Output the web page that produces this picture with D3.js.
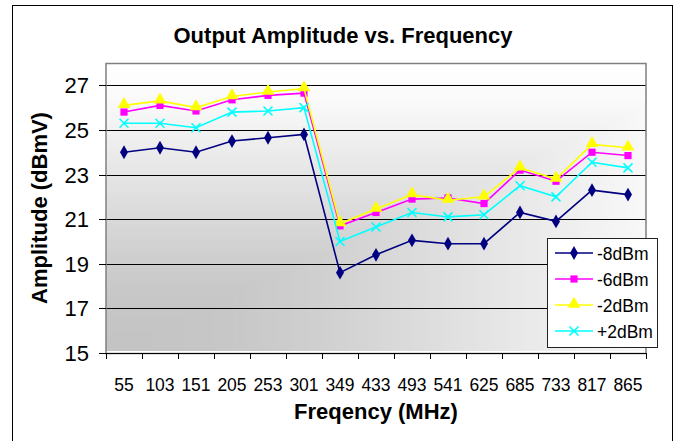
<!DOCTYPE html>
<html lang="en">
<head>
<meta charset="UTF-8">
<title>Output Amplitude vs. Frequency</title>
<script src="https://d3js.org/d3.v7.min.js"></script>
<style>
    body { margin: 0; background: #fff; }
    svg text { font-family: Arial, "Liberation Sans", sans-serif; fill: #000; }
</style>
</head>
<body>
<svg id="chart" width="678" height="441"></svg>
<script>
    // values
    const freqs = ["55", "103", "151", "205", "253", "301", "349", "433", "493", "541", "625", "685", "733", "817", "865"];
    const m8dBm = [24.0, 24.2, 24.0, 24.5, 24.65, 24.8, 18.6, 19.4, 20.05, 19.9, 19.9, 21.3, 20.9, 22.3, 22.1];
    const m6dBm = [25.8, 26.1, 25.85, 26.35, 26.55, 26.65, 20.7, 21.3, 21.9, 21.95, 21.7, 23.2, 22.7, 24.0, 23.85];
    const m2dBm = [26.1, 26.3, 26.0, 26.5, 26.7, 26.85, 20.8, 21.45, 22.1, 21.85, 22.0, 23.3, 22.8, 24.35, 24.2];
    const p2dBm = [25.3, 25.3, 25.1, 25.8, 25.85, 26.0, 20.0, 20.65, 21.3, 21.1, 21.2, 22.5, 22.0, 23.55, 23.3];
    const seriesNames = ["-8dBm", "-6dBm", "-2dBm", "+2dBm"];
    const yTicks = [15, 17, 19, 21, 23, 25, 27];

    const series = [
        {name: seriesNames[0], values: m8dBm, color: "#000080", marker: "diamond"},
        {name: seriesNames[1], values: m6dBm, color: "#ff00ff", marker: "square"},
        {name: seriesNames[2], values: m2dBm, color: "#ffff00", marker: "triangle"},
        {name: seriesNames[3], values: p2dBm, color: "#00ffff", marker: "x"}
    ];

    const svg = d3.select("#chart");
    const plot = {left: 106, top: 63, right: 646, bottom: 353};

    // outer chart frame
    svg.append("rect")
        .attr("x", 12.5).attr("y", 5.5)
        .attr("width", 660).attr("height", 445)
        .attr("fill", "#fff").attr("stroke", "#000");

    svg.append("text")
        .attr("x", 343).attr("y", 43)
        .attr("text-anchor", "middle")
        .style("font-size", "22px").style("font-weight", "bold")
        .text("Output Amplitude vs. Frequency");

    const x = d3.scaleBand().domain(freqs).range([plot.left, plot.right]);
    const y = d3.scaleLinear().domain([15, 28]).range([plot.bottom, plot.top]);

    // plot background: grey in the lower left corner fading to white
    const pw = plot.right - plot.left, ph = plot.bottom - plot.top - 2;
    svg.append("clipPath").attr("id", "pclip")
        .append("rect")
        .attr("x", plot.left).attr("y", plot.top)
        .attr("width", pw).attr("height", ph);
    const shade = d3.scaleLinear()
        .domain([0, 0.2, 0.35, 0.5, 0.65, 0.8, 0.9, 1])
        .range(["#c3c3c3", "#c7c7c7", "#d0d0d0", "#dcdcdc", "#e8e8e8", "#f4f4f4", "#fbfbfb", "#ffffff"]);
    svg.append("g").attr("clip-path", "url(#pclip)")
        .selectAll("rect")
        .data(d3.range(1, 0, -0.01))
        .join("rect")
        .attr("x", plot.left)
        .attr("y", t => plot.bottom - 2 - ph * t)
        .attr("width", t => pw * t / 0.85)
        .attr("height", t => ph * t)
        .attr("fill", t => shade(t));

    // gridlines
    svg.append("g").selectAll("line")
        .data(yTicks.slice(1))
        .join("line")
        .attr("x1", plot.left).attr("x2", plot.right)
        .attr("y1", d => Math.round(y(d)) + 0.5).attr("y2", d => Math.round(y(d)) + 0.5)
        .attr("stroke", "#000").attr("stroke-width", 1);

    // plot border
    svg.append("rect")
        .attr("x", plot.left).attr("y", plot.top + 0.5)
        .attr("width", pw).attr("height", plot.bottom - plot.top)
        .attr("fill", "none").attr("stroke", "#808080").attr("stroke-width", 1.5);

    // x axis
    const xa = svg.append("g");
    xa.append("line")
        .attr("x1", plot.left).attr("x2", plot.right + 1)
        .attr("y1", plot.bottom + 0.5).attr("y2", plot.bottom + 0.5)
        .attr("stroke", "#000");
    xa.selectAll(".tk")
        .data(freqs.concat(["end"]))
        .join("line")
        .attr("class", "tk")
        .attr("x1", (d, i) => Math.round(plot.left + i * x.bandwidth()) + 0.5)
        .attr("x2", (d, i) => Math.round(plot.left + i * x.bandwidth()) + 0.5)
        .attr("y1", plot.bottom).attr("y2", plot.bottom + 6)
        .attr("stroke", "#000");
    xa.selectAll("text")
        .data(freqs)
        .join("text")
        .attr("x", d => x(d) + x.bandwidth() / 2)
        .attr("y", 391)
        .attr("text-anchor", "middle")
        .style("font-size", "17.5px")
        .text(d => d);

    // y axis
    const ya = svg.append("g");
    ya.selectAll("line")
        .data(yTicks)
        .join("line")
        .attr("x1", plot.left - 7).attr("x2", plot.left)
        .attr("y1", d => Math.round(y(d)) + 0.5).attr("y2", d => Math.round(y(d)) + 0.5)
        .attr("stroke", "#000");
    ya.selectAll("text")
        .data(yTicks)
        .join("text")
        .attr("x", 89)
        .attr("y", d => y(d) + 8)
        .attr("text-anchor", "end")
        .style("font-size", "22px")
        .text(d => d);

    svg.append("text")
        .attr("transform", "translate(47,208) rotate(-90)")
        .attr("text-anchor", "middle")
        .style("font-size", "22px").style("font-weight", "bold")
        .text("Amplitude (dBmV)");

    svg.append("text")
        .attr("x", 376).attr("y", 419)
        .attr("text-anchor", "middle")
        .style("font-size", "22px").style("font-weight", "bold")
        .text("Freqency (MHz)");

    function marker(g, kind, color) {
        if (kind === "x") {
            g.append("path")
                .attr("d", "M-4.5,-4.5L4.5,4.5M-4.5,4.5L4.5,-4.5")
                .attr("stroke", color).attr("stroke-width", 1.6).attr("fill", "none");
        } else {
            const type = kind === "diamond" ? d3.symbolDiamond : kind === "square" ? d3.symbolSquare : d3.symbolTriangle;
            const size = kind === "diamond" ? 55 : kind === "square" ? 52 : 70;
            g.append("path")
                .attr("d", d3.symbol().type(type).size(size)())
                .attr("transform", kind === "triangle" ? "translate(0,-1)" : null)
                .attr("fill", color);
        }
    }

    const line = d3.line()
        .x((d, i) => x(freqs[i]) + x.bandwidth() / 2)
        .y(d => y(d));

    series.forEach(s => {
        const g = svg.append("g");
        g.append("path")
            .attr("d", line(s.values))
            .attr("fill", "none")
            .attr("stroke", s.color)
            .attr("stroke-width", 1.6);
        g.selectAll(".pt")
            .data(s.values)
            .join("g")
            .attr("class", "pt")
            .attr("transform", (d, i) => `translate(${x(freqs[i]) + x.bandwidth() / 2},${y(d)})`)
            .each(function () { marker(d3.select(this), s.marker, s.color); });
    });

    // legend
    const lg = svg.append("g");
    lg.append("rect")
        .attr("x", 547.5).attr("y", 238.5)
        .attr("width", 110).attr("height", 109)
        .attr("fill", "#fff").attr("stroke", "#222");
    const rows = lg.selectAll(".row")
        .data(series)
        .join("g")
        .attr("class", "row")
        .attr("transform", (d, i) => `translate(0,${253 + i * 26})`);
    rows.append("line")
        .attr("x1", 555).attr("x2", 593)
        .attr("stroke", d => d.color).attr("stroke-width", 1.6);
    rows.append("g")
        .attr("transform", "translate(574,0)")
        .each(function (d) { marker(d3.select(this), d.marker, d.color); });
    rows.append("text")
        .attr("x", 597).attr("y", 6.5)
        .style("font-size", "17.5px")
        .text(d => d.name);
</script>
</body>
</html>
